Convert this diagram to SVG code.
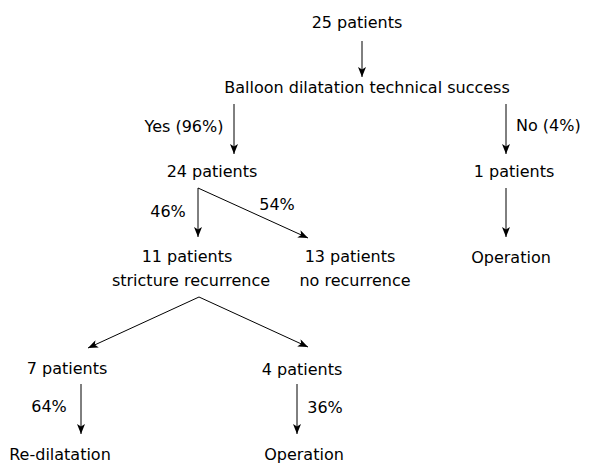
<svg xmlns="http://www.w3.org/2000/svg" width="589" height="465" viewBox="0 0 589 465">
<style>
text{font-family:"DejaVu Sans",sans-serif;font-size:16px;fill:#000;text-anchor:middle}
.s{text-anchor:start}
.c line{stroke:#000;stroke-width:1;marker-end:url(#ah)}
</style>
<defs>
<marker id="ah" viewBox="0 0 10 8" refX="10" refY="4" markerWidth="10" markerHeight="8" markerUnits="userSpaceOnUse" orient="auto">
<path d="M0,0 L10,4 L0,8 L2.5,4 z" fill="#000"/>
</marker>
</defs>
<rect width="589" height="465" fill="#fff"/>
<g class="c" id="connectors">
<line x1="362" y1="41" x2="362" y2="77"/>
<line x1="234" y1="104" x2="234" y2="154"/>
<line x1="506" y1="104" x2="506" y2="154"/>
<line x1="198" y1="188" x2="198" y2="237"/>
<line x1="198" y1="188" x2="308" y2="238"/>
<line x1="506" y1="188" x2="506" y2="237"/>
<line x1="199" y1="297" x2="88" y2="348"/>
<line x1="199" y1="297" x2="308" y2="347"/>
<line x1="81" y1="384" x2="81" y2="434"/>
<line x1="297" y1="384" x2="297" y2="434"/>
</g>
<g id="labels">
<text x="184" y="132">Yes (96%)</text>
<text class="s" x="516" y="131">No (4%)</text>
<text x="168" y="217">46%</text>
<text x="277" y="210">54%</text>
<text x="49" y="412">64%</text>
<text x="325" y="413">36%</text>
</g>
<g id="n25"><text x="357" y="28">25 patients</text></g>
<g id="balloon"><text x="367" y="93">Balloon dilatation technical success</text></g>
<g id="n24"><text x="212" y="177">24 patients</text></g>
<g id="n1"><text x="514" y="177">1 patients</text></g>
<g id="n11"><text x="187" y="262">11 patients</text><text x="191" y="286">stricture recurrence</text></g>
<g id="n13"><text x="350" y="262">13 patients</text><text x="355" y="286">no recurrence</text></g>
<g id="op1"><text x="511" y="263">Operation</text></g>
<g id="n7"><text x="67" y="374">7 patients</text></g>
<g id="n4"><text x="302" y="375">4 patients</text></g>
<g id="redil"><text x="60" y="460">Re-dilatation</text></g>
<g id="op2"><text x="304" y="460">Operation</text></g>
</svg>
